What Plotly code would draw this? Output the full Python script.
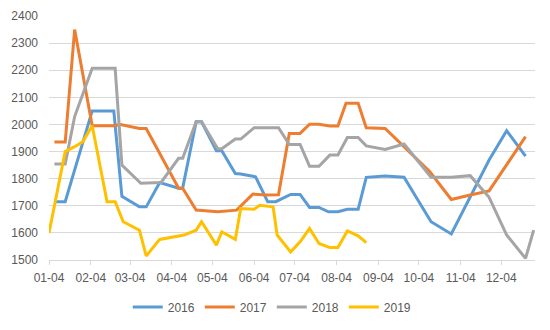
import plotly.graph_objects as go

# ---- data (dates placed on a common 2016 calendar, month-day only matters) ----
tick_labels = ["01-04", "02-04", "03-04", "04-04", "05-04", "06-04",
               "07-04", "08-04", "09-04", "10-04", "11-04", "12-04"]

dates_2016 = ["2016-01-08", "2016-01-16", "2016-02-05", "2016-02-21", "2016-02-27",
              "2016-03-11", "2016-03-16", "2016-03-26", "2016-04-09", "2016-04-12",
              "2016-04-22", "2016-04-26", "2016-05-07", "2016-05-11", "2016-05-21",
              "2016-05-25", "2016-06-05", "2016-06-14", "2016-06-20", "2016-07-01",
              "2016-07-08", "2016-07-15", "2016-07-22", "2016-07-29", "2016-08-05",
              "2016-08-12", "2016-08-20", "2016-08-26", "2016-09-09", "2016-09-23",
              "2016-10-13", "2016-10-28", "2016-11-25", "2016-12-08", "2016-12-22"]
values_2016 = [1715, 1715, 2050, 2050, 1735,
               1696, 1696, 1786, 1765, 1765,
               2010, 2010, 1903, 1903, 1819,
               1817, 1807, 1715, 1715, 1742,
               1742, 1694, 1694, 1678, 1678,
               1687, 1687, 1805, 1810, 1805,
               1641, 1596, 1869, 1977, 1883]

dates_2017 = ["2016-01-08", "2016-01-16", "2016-01-23", "2016-02-05", "2016-02-21",
              "2016-02-26", "2016-03-11", "2016-03-16", "2016-04-09", "2016-04-12",
              "2016-04-22", "2016-05-08", "2016-05-22", "2016-06-03", "2016-06-13",
              "2016-06-22", "2016-06-30", "2016-07-08", "2016-07-15", "2016-07-22",
              "2016-07-30", "2016-08-05", "2016-08-11", "2016-08-20", "2016-08-26",
              "2016-09-09", "2016-10-12", "2016-10-28", "2016-11-11", "2016-11-25",
              "2016-12-22"]
values_2017 = [1935, 1935, 2350, 1995, 1995,
               2000, 1985, 1985, 1765, 1765,
               1684, 1678, 1684, 1743, 1740,
               1741, 1967, 1967, 2001, 2001,
               1994, 1994, 2078, 2078, 1988,
               1985, 1826, 1723, 1740, 1755,
               1955]

dates_2018 = ["2016-01-08", "2016-01-16", "2016-01-23", "2016-02-05", "2016-02-22",
              "2016-02-27", "2016-03-12", "2016-03-27", "2016-04-09", "2016-04-12",
              "2016-04-22", "2016-04-26", "2016-05-08", "2016-05-11", "2016-05-21",
              "2016-05-25", "2016-06-04", "2016-06-22", "2016-06-30", "2016-07-08",
              "2016-07-15", "2016-07-22", "2016-07-30", "2016-08-05", "2016-08-12",
              "2016-08-20", "2016-08-26", "2016-09-09", "2016-09-23", "2016-10-13",
              "2016-10-28", "2016-11-11", "2016-11-25", "2016-12-08", "2016-12-22",
              "2016-12-28"]
values_2018 = [1854, 1854, 2029, 2207, 2207,
               1850, 1783, 1786, 1875, 1875,
               2010, 2010, 1910, 1910, 1946,
               1946, 1988, 1988, 1926, 1926,
               1846, 1846, 1887, 1887, 1952,
               1952, 1921, 1908, 1928, 1805,
               1805, 1811, 1731, 1592, 1506,
               1610]

dates_2019 = ["2016-01-04", "2016-01-16", "2016-01-23", "2016-01-29", "2016-02-05",
              "2016-02-16", "2016-02-22", "2016-02-28", "2016-03-11", "2016-03-16",
              "2016-03-26", "2016-04-13", "2016-04-22", "2016-04-26", "2016-05-07",
              "2016-05-11", "2016-05-21", "2016-05-25", "2016-06-04", "2016-06-08",
              "2016-06-18", "2016-06-21", "2016-07-01", "2016-07-08", "2016-07-15",
              "2016-07-22", "2016-07-30", "2016-08-05", "2016-08-12", "2016-08-20",
              "2016-08-26"]
values_2019 = [1600, 1900, 1918, 1936, 1995,
               1715, 1715, 1641, 1610, 1515,
               1576, 1592, 1610, 1641, 1555,
               1604, 1576, 1690, 1687, 1702,
               1696, 1592, 1530, 1567, 1616,
               1561, 1546, 1546, 1607, 1589,
               1564]

series = [
    ("2016", dates_2016, values_2016, "#5B9BD5"),
    ("2017", dates_2017, values_2017, "#ED7D31"),
    ("2018", dates_2018, values_2018, "#A5A5A5"),
    ("2019", dates_2019, values_2019, "#FFC000"),
]

tick_vals = ["2016-" + t[:2] + "-" + t[3:] for t in tick_labels]

fig = go.Figure()
for name, xs, ys, col in series:
    fig.add_trace(go.Scatter(x=xs, y=ys, mode="lines", name=name,
                             line=dict(color=col, width=3)))

font_col = "#595959"
fig.update_layout(
    width=550, height=330,
    margin=dict(l=49, r=15, t=16, b=70, autoexpand=False),
    paper_bgcolor="white", plot_bgcolor="white",
    font=dict(family="Liberation Sans, Arial, sans-serif", size=12, color=font_col),
    showlegend=True,
    legend=dict(orientation="h", xref="container", yref="container",
                x=0.495, xanchor="center", y=0.07, yanchor="middle",
                font=dict(size=12, color=font_col), bgcolor="rgba(0,0,0,0)"),
)
fig.update_xaxes(
    type="date", range=["2016-01-04", "2016-12-29"],
    tickvals=tick_vals, ticktext=tick_labels,
    showgrid=False, showline=True, linecolor="#D9D9D9", linewidth=1,
    ticks="outside", ticklen=4, tickcolor="#D9D9D9", ticklabelstandoff=3,
    tickfont=dict(size=12, color=font_col), zeroline=False, automargin=False,
)
fig.update_yaxes(
    range=[1500, 2400], dtick=100, tick0=1500,
    showgrid=True, gridcolor="#D9D9D9", gridwidth=1,
    showline=False, zeroline=False, ticks="", ticklabelstandoff=10,
    tickfont=dict(size=12, color=font_col), automargin=False,
)

fig.write_html("out.html")
